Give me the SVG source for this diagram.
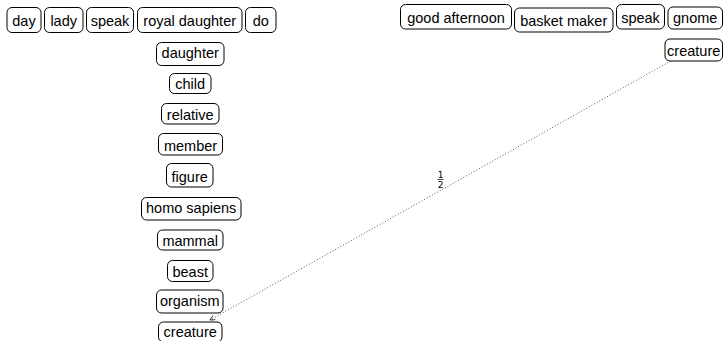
<svg xmlns="http://www.w3.org/2000/svg" width="727" height="341" viewBox="0 0 727 341">
<style>
.b{fill:#fff;stroke:#000;stroke-width:1}
.t{font-family:"Liberation Sans",Arial,sans-serif;font-size:14.5px;text-anchor:middle;fill:#000}
.e{fill:none;stroke:#444;stroke-width:0.9;stroke-dasharray:1 2}
.f{font-family:"DejaVu Sans","Liberation Sans",sans-serif;font-size:9px;text-anchor:middle;fill:#000}
</style>
<defs>
<marker id="ah" viewBox="0 0 10 10" refX="9" refY="5" markerWidth="6" markerHeight="6" orient="auto" markerUnits="userSpaceOnUse">
<path d="M1,1 L9,5 L1,9" fill="none" stroke="#000" stroke-width="1.2"/>
</marker>
</defs>
<g id="connectors">
<line class="e" x1="676" y1="58" x2="210" y2="320" marker-end="url(#ah)"/>
<g id="label"><text class="f" x="440.5" y="177.5">1</text><line x1="437.5" y1="179.5" x2="443.5" y2="179.5" stroke="#000" stroke-width="0.7"/><text class="f" x="440.5" y="187.5">2</text></g>
</g>
<g id="n-day"><rect class="b" x="7" y="7.5" width="34" height="25" rx="5"/><text class="t" x="24" y="26">day</text></g>
<g id="n-lady"><rect class="b" x="44.5" y="7.5" width="38.5" height="25" rx="5"/><text class="t" x="63.7" y="26">lady</text></g>
<g id="n-speak1"><rect class="b" x="86.5" y="7.5" width="47" height="25" rx="5"/><text class="t" x="110" y="26">speak</text></g>
<g id="n-royal"><rect class="b" x="137.5" y="7.5" width="104.5" height="25" rx="5"/><text class="t" x="189.7" y="26">royal daughter</text></g>
<g id="n-do"><rect class="b" x="245.5" y="7.5" width="30.5" height="25" rx="5"/><text class="t" x="260.7" y="26">do</text></g>
<g id="n-good"><rect class="b" x="400.5" y="4.5" width="111" height="24.5" rx="5"/><text class="t" x="456" y="23">good afternoon</text></g>
<g id="n-basket"><rect class="b" x="514.5" y="8" width="98.5" height="24" rx="5"/><text class="t" x="563.7" y="26">basket maker</text></g>
<g id="n-speak2"><rect class="b" x="616.5" y="4.5" width="48" height="24.5" rx="5"/><text class="t" x="640.5" y="23">speak</text></g>
<g id="n-gnome"><rect class="b" x="668" y="7" width="54.5" height="22" rx="5"/><text class="t" x="695.2" y="23">gnome</text></g>
<g id="n-creature2"><rect class="b" x="665" y="39" width="57.5" height="22" rx="5"/><text class="t" x="693.7" y="56">creature</text></g>
<g id="n-daughter"><rect class="b" x="156.5" y="42.5" width="67.5" height="23" rx="5"/><text class="t" x="190.2" y="58">daughter</text></g>
<g id="n-child"><rect class="b" x="169.5" y="73.5" width="41.5" height="20" rx="5"/><text class="t" x="190.2" y="89">child</text></g>
<g id="n-relative"><rect class="b" x="161.5" y="103.5" width="57.5" height="20.5" rx="5"/><text class="t" x="190.2" y="120">relative</text></g>
<g id="n-member"><rect class="b" x="158.5" y="133.5" width="64" height="21.5" rx="5"/><text class="t" x="190.5" y="151">member</text></g>
<g id="n-figure"><rect class="b" x="166.5" y="163.5" width="46.5" height="23.5" rx="5"/><text class="t" x="189.7" y="182">figure</text></g>
<g id="n-homo"><rect class="b" x="141.5" y="197.5" width="99.5" height="22.5" rx="5"/><text class="t" x="191.2" y="213">homo sapiens</text></g>
<g id="n-mammal"><rect class="b" x="157.5" y="230" width="65.5" height="20" rx="5"/><text class="t" x="190.2" y="246">mammal</text></g>
<g id="n-beast"><rect class="b" x="167.5" y="260.5" width="45.5" height="21" rx="5"/><text class="t" x="190.2" y="277">beast</text></g>
<g id="n-organism"><rect class="b" x="156.5" y="290" width="66.5" height="23" rx="5"/><text class="t" x="189.7" y="306">organism</text></g>
<g id="n-creature1"><rect class="b" x="158.5" y="322" width="63.5" height="20" rx="5"/><text class="t" x="190.2" y="337">creature</text></g>
</svg>
